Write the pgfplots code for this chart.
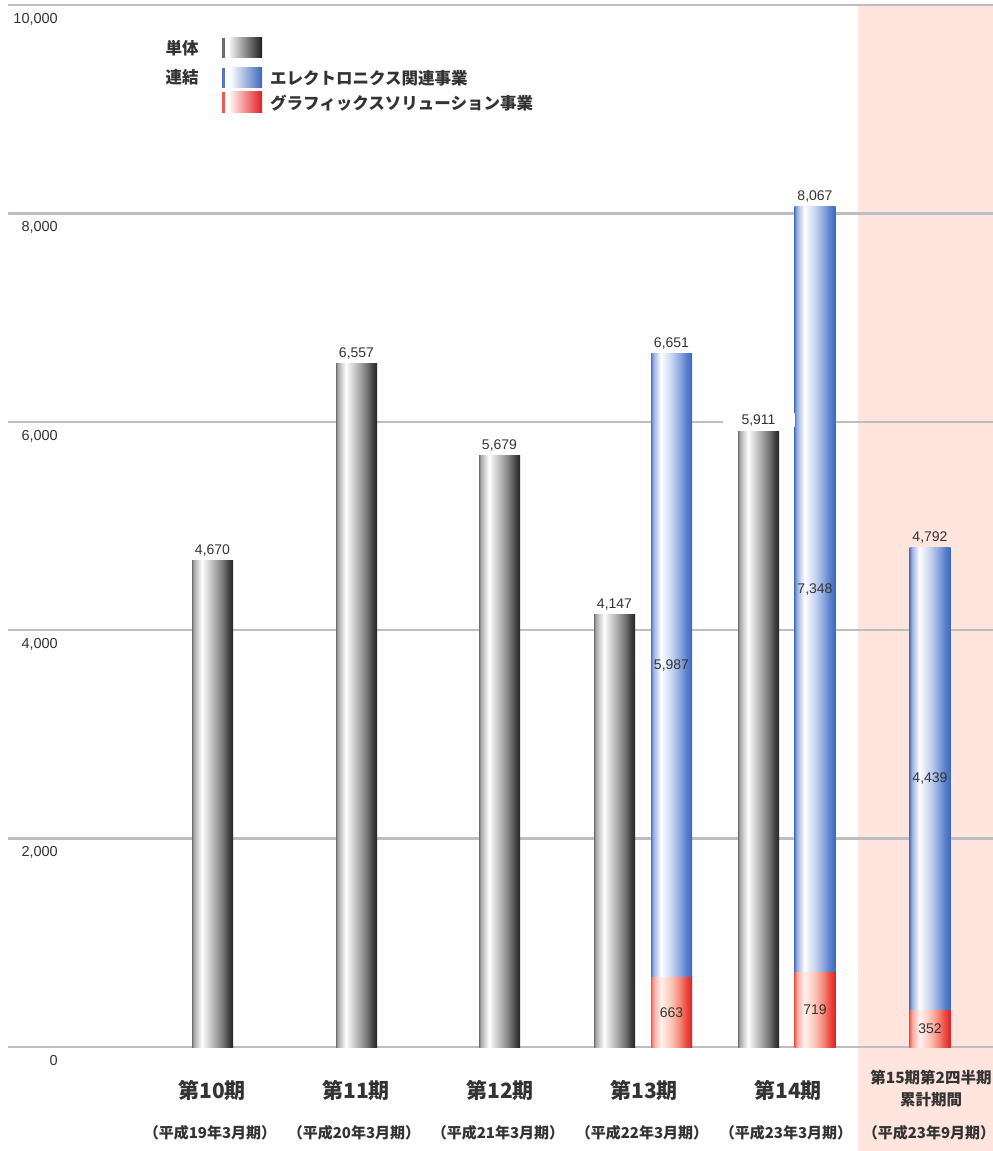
\documentclass[border=0pt]{standalone}
\usepackage{fontspec}
\setmainfont{Liberation Sans}
\newfontfamily\jp{Noto Sans CJK JP}
\usepackage{pgfplots}
\pgfplotsset{compat=1.18}
\definecolor{txt}{HTML}{333333}
\definecolor{gridc}{HTML}{BEBEC2}
\definecolor{pinkbg}{HTML}{FFE5DE}
\definecolor{gA}{HTML}{6E6E6E}
\definecolor{gB}{HTML}{A8A8A8}
\definecolor{gC}{HTML}{BCBCBC}
\definecolor{gD}{HTML}{7A7A7A}
\definecolor{gE}{HTML}{404040}
\definecolor{gF}{HTML}{262626}
\definecolor{bA}{HTML}{5577C0}
\definecolor{bB}{HTML}{9AB2E2}
\definecolor{bC}{HTML}{C6D4F0}
\definecolor{bD}{HTML}{8EA8E0}
\definecolor{bE}{HTML}{5A80CC}
\definecolor{bF}{HTML}{3C68BC}
\definecolor{rA}{HTML}{EE5A50}
\definecolor{rB}{HTML}{F8A89C}
\definecolor{rW}{HTML}{FFF2EE}
\definecolor{rC}{HTML}{FBC4B6}
\definecolor{rD}{HTML}{F58878}
\definecolor{rE}{HTML}{EC4A40}
\definecolor{rF}{HTML}{E21E26}
\pgfdeclarehorizontalshading{graycyl}{100bp}{color(0bp)=(gA); color(25bp)=(gA); color(27bp)=(gB); color(37bp)=(white); color(50bp)=(gC); color(62bp)=(gD); color(70bp)=(gE); color(75bp)=(gF); color(100bp)=(gF)}
\pgfdeclarehorizontalshading{bluecyl}{100bp}{color(0bp)=(bA); color(25bp)=(bA); color(28bp)=(bB); color(37bp)=(white); color(50bp)=(bC); color(60bp)=(bD); color(68bp)=(bE); color(75bp)=(bF); color(100bp)=(bF)}
\pgfdeclarehorizontalshading{redcyl}{100bp}{color(0bp)=(rA); color(25bp)=(rA); color(28bp)=(rB); color(37bp)=(rW); color(50bp)=(rC); color(60bp)=(rD); color(68bp)=(rE); color(75bp)=(rF); color(100bp)=(rF)}
\newcommand{\cat}{\jp\bfseries\fontsize{21}{24}\selectfont}
\newcommand{\sub}{\jp\bfseries\fontsize{15}{18}\selectfont}
\newcommand{\leg}{\jp\bfseries\fontsize{16.5}{18}\selectfont}
\pgfplotsset{
  cyl/.style={ybar, bar width=41pt, bar shift=0pt, draw=none, shade, shading=#1},
}
\begin{document}
\begin{tikzpicture}
% shaded period background
\fill[pinkbg] (850pt,-104pt) rectangle (985pt,1041pt);
\begin{axis}[
  at={(0pt,0pt)}, anchor=south west,
  scale only axis, width=985pt, height=1042pt,
  xmin=8, xmax=993, ymin=0, ymax=10000,
  clip=false,
  axis line style={draw=none},
  tick style={draw=none},
  major tick length=0pt,
  scaled y ticks=false,
  ytick={0,2000,4000,6000,8000,10000},
  ymajorgrids,
  grid style={gridc, line width=2.5pt},
  /pgf/number format/assume math mode=true,
  /pgf/number format/1000 sep={,},
  yticklabel style={font=\fontsize{14.5}{16}\selectfont, text=txt, anchor=north east, inner sep=0pt, xshift=50pt, yshift=-8pt},
  xtick={212,356,500,644,788,931},
  xticklabels={{第10期},{第11期},{第12期},{第13期},{第14期},{\raisebox{7pt}{\fontsize{15.5}{22}\selectfont\begin{tabular}{@{}c@{}}第15期第2四半期\\累計期間\end{tabular}}\hspace{8pt}}},
  xticklabel style={font=\cat, text=txt, anchor=center, inner sep=0pt, yshift=-43pt},
  extra x ticks={210,354,498,642,786,929},
  extra x tick labels={{（平成19年3月期）},{（平成20年3月期）},{（平成21年3月期）},{（平成22年3月期）},{（平成23年3月期）},{（平成23年9月期）}},
  extra x tick style={xticklabel style={font=\sub, yshift=-43pt}},
  every node near coord/.append style={font=\fontsize{14}{16}\selectfont, text=txt, inner sep=0pt, yshift=4pt},
]
% single (単体)
\addplot[cyl=graycyl, nodes near coords] coordinates {(212.5,4670)};
\addplot[cyl=graycyl, nodes near coords] coordinates {(356.5,6557)};
\addplot[cyl=graycyl, nodes near coords] coordinates {(499.5,5679)};
\addplot[cyl=graycyl, nodes near coords] coordinates {(614.5,4147)};
\addplot[cyl=graycyl, nodes near coords,
  every node near coord/.append style={fill=white, minimum width=72pt, inner ysep=1pt}]
  coordinates {(758.5,5911)};
% consolidated: electronics (drawn to the total)
\addplot[cyl=bluecyl, nodes near coords] coordinates {(671.5,6651)};
\addplot[cyl=bluecyl, nodes near coords] coordinates {(815,8067)};
\addplot[cyl=bluecyl, nodes near coords] coordinates {(930,4792)};
% consolidated: graphics solutions
\addplot[cyl=redcyl] coordinates {(671.5,663)};
\addplot[cyl=redcyl] coordinates {(815,719)};
\addplot[cyl=redcyl] coordinates {(930,352)};
% segment labels
\addplot[draw=none, mark=none, nodes near coords, point meta=explicit symbolic,
  every node near coord/.append style={anchor=center, yshift=-4pt}]
  coordinates {(671.5,3657) [5,987] (815,4393) [7,348] (930,2572) [4,439]
               (671.5,332) [663] (815,360) [719] (930,176) [352]};
\end{axis}
% legend
\node[text=txt, font=\leg] at (174pt,999pt) {単体};
\node[text=txt, font=\leg] at (174pt,970pt) {連結};
\fill[gA] (214pt,1009pt) rectangle (216.5pt,989pt);
\shade[left color=gray!12, right color=black!88] (222pt,1009pt) rectangle (254pt,989pt);
\fill[bA] (214pt,979pt) rectangle (216.5pt,959pt);
\shade[left color=white, right color=bF] (222pt,979pt) rectangle (254pt,959pt);
\fill[rA] (214pt,955pt) rectangle (216.5pt,934pt);
\shade[left color=rW, right color=rF] (222pt,955pt) rectangle (254pt,934pt);
\node[anchor=west, inner sep=0pt, text=txt, font=\leg] at (262pt,969pt) {エレクトロニクス関連事業};
\node[anchor=west, inner sep=0pt, text=txt, font=\leg] at (262pt,944pt) {グラフィックスソリューション事業};
\pgfresetboundingbox
\path (-8pt,-104pt) rectangle (985pt,1047pt);
\end{tikzpicture}
\end{document}
